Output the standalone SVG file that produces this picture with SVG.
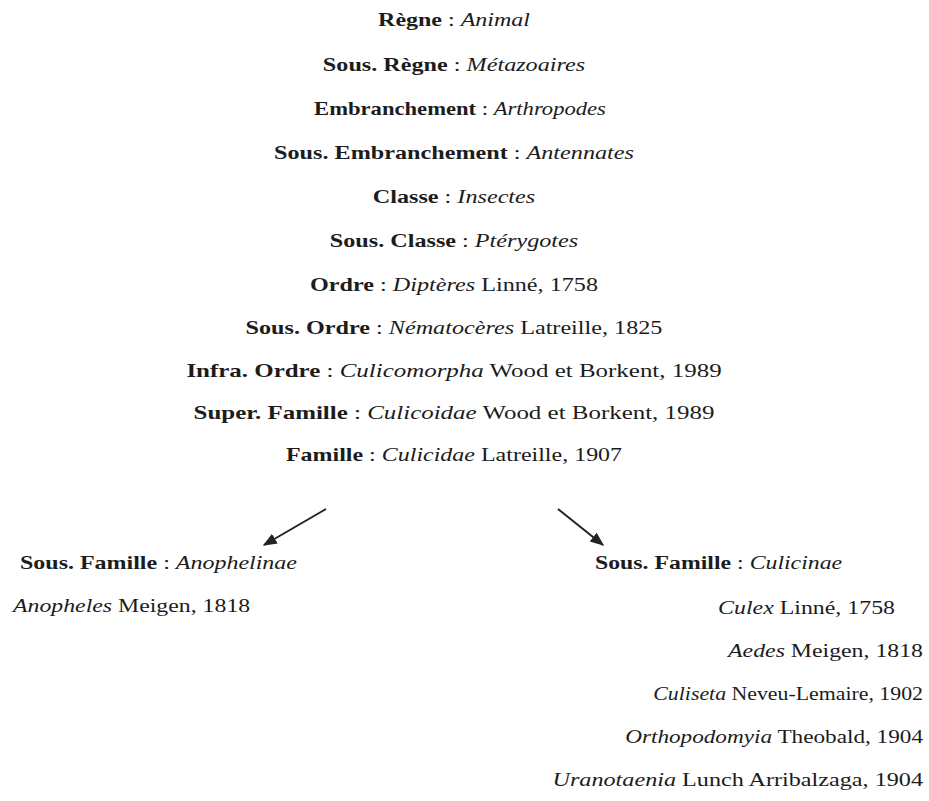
<svg xmlns="http://www.w3.org/2000/svg" width="929" height="801" viewBox="0 0 929 801">
<style>
text{font-family:"Liberation Serif","Times New Roman",serif;font-size:19.5px;fill:#1c1c1c}
.b{font-weight:bold}
.i{font-style:italic}
.c{text-anchor:middle}
.e{text-anchor:end}
.conn{stroke:#222;stroke-width:2;fill:none}
</style>
<defs>
<marker id="ah" viewBox="0 0 10 10" refX="9" refY="5" markerWidth="14" markerHeight="14" orient="auto" markerUnits="userSpaceOnUse">
<path d="M0,1 L10,5 L0,9 z" fill="#222"/>
</marker>
</defs>
<rect width="929" height="801" fill="#fff"/>
<g id="regne"><text class="c" transform="translate(454,26) scale(1.23,1)"><tspan class="b">Règne</tspan> : <tspan class="i">Animal</tspan></text></g>
<g id="sous-regne"><text class="c" transform="translate(454,71) scale(1.24,1)"><tspan class="b">Sous. Règne</tspan> : <tspan class="i">Métazoaires</tspan></text></g>
<g id="embranchement"><text class="c" transform="translate(460,115) scale(1.16,1)"><tspan class="b">Embranchement</tspan> : <tspan class="i">Arthropodes</tspan></text></g>
<g id="sous-embranchement"><text class="c" transform="translate(454,159) scale(1.24,1)"><tspan class="b">Sous. Embranchement</tspan> : <tspan class="i">Antennates</tspan></text></g>
<g id="classe"><text class="c" transform="translate(454,203) scale(1.24,1)"><tspan class="b">Classe</tspan> : <tspan class="i">Insectes</tspan></text></g>
<g id="sous-classe"><text class="c" transform="translate(454,247) scale(1.24,1)"><tspan class="b">Sous. Classe</tspan> : <tspan class="i">Ptérygotes</tspan></text></g>
<g id="ordre"><text class="c" transform="translate(454,291) scale(1.24,1)"><tspan class="b">Ordre</tspan> : <tspan class="i">Diptères</tspan> Linné, 1758</text></g>
<g id="sous-ordre"><text class="c" transform="translate(454,334) scale(1.24,1)"><tspan class="b">Sous. Ordre</tspan> : <tspan class="i">Nématocères</tspan> Latreille, 1825</text></g>
<g id="infra-ordre"><text class="c" transform="translate(454,377) scale(1.28,1)"><tspan class="b">Infra. Ordre</tspan> : <tspan class="i">Culicomorpha</tspan> Wood et Borkent, 1989</text></g>
<g id="super-famille"><text class="c" transform="translate(454,419) scale(1.28,1)"><tspan class="b">Super. Famille</tspan> : <tspan class="i">Culicoidae</tspan> Wood et Borkent, 1989</text></g>
<g id="famille"><text class="c" transform="translate(454,461) scale(1.23,1)"><tspan class="b">Famille</tspan> : <tspan class="i">Culicidae</tspan> Latreille, 1907</text></g>
<g id="connectors">
<line class="conn" x1="326" y1="509" x2="264" y2="545" marker-end="url(#ah)"/>
<line class="conn" x1="558" y1="509" x2="603" y2="545" marker-end="url(#ah)"/>
</g>
<g id="anophelinae"><text transform="translate(20,569) scale(1.23,1)"><tspan class="b">Sous. Famille</tspan> : <tspan class="i">Anophelinae</tspan></text></g>
<g id="anopheles"><text transform="translate(13,612) scale(1.22,1)"><tspan class="i">Anopheles</tspan> Meigen, 1818</text></g>
<g id="culicinae"><text transform="translate(595,569) scale(1.22,1)"><tspan class="b">Sous. Famille</tspan> : <tspan class="i">Culicinae</tspan></text></g>
<g id="culex"><text class="e" transform="translate(895,614) scale(1.224,1)"><tspan class="i">Culex</tspan> Linné, 1758</text></g>
<g id="aedes"><text class="e" transform="translate(923,657) scale(1.22,1)"><tspan class="i">Aedes</tspan> Meigen, 1818</text></g>
<g id="culiseta"><text class="e" transform="translate(923,700) scale(1.12,1)"><tspan class="i">Culiseta</tspan> Neveu-Lemaire, 1902</text></g>
<g id="orthopodomyia"><text class="e" transform="translate(923,743) scale(1.19,1)"><tspan class="i">Orthopodomyia</tspan> Theobald, 1904</text></g>
<g id="uranotaenia"><text class="e" transform="translate(923,786) scale(1.24,1)"><tspan class="i">Uranotaenia</tspan> Lunch Arribalzaga, 1904</text></g>
</svg>
